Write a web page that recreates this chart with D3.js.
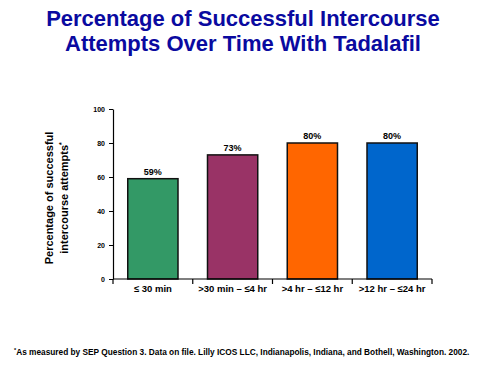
<!DOCTYPE html>
<html>
<head>
<meta charset="utf-8">
<script src="https://cdn.jsdelivr.net/npm/d3@7"></script>
<style>
  body { margin: 0; background: #fff; }
  text { font-family: "Liberation Sans", Arial, sans-serif; font-weight: bold; }
</style>
</head>
<body>
<div id="chart"></div>
<script>
var categories = ["\u2264 30 min", ">30 min \u2013 \u22644 hr", ">4 hr \u2013 \u226412 hr", ">12 hr \u2013 \u226424 hr"];
var values = [59, 73, 80, 80];
var valueLabels = ["59%", "73%", "80%", "80%"];
var barColors = ["#339966", "#993366", "#FF6600", "#0066CC"];
var yTicks = [0, 20, 40, 60, 80, 100];
var titleLines = ["Percentage of Successful Intercourse", "Attempts Over Time With Tadalafil"];

var W = 500, H = 375;
var margin = {top: 109, left: 113, right: 68, bottom: 96};
var width = W - margin.left - margin.right,
    height = H - margin.top - margin.bottom;

var svg = d3.select("#chart").append("svg")
    .attr("width", W).attr("height", H);

// title
svg.selectAll(".title").data(titleLines).enter().append("text")
    .attr("class", "title")
    .attr("x", 243).attr("y", function(d, i) { return 25.5 + i * 25; })
    .attr("text-anchor", "middle")
    .attr("font-size", "22px")
    .attr("fill", "#0A0AA0")
    .text(function(d) { return d; });

var g = svg.append("g")
    .attr("transform", "translate(" + margin.left + "," + margin.top + ")");

var x = d3.scaleBand().domain(categories).range([0, width]).paddingInner(0.37).paddingOuter(0.185);
var xb = d3.scaleBand().domain(categories).range([0, width]);
var y = d3.scaleLinear().domain([0, 100]).range([height, 0]);

// bars
g.selectAll(".bar").data(values).enter().append("rect")
    .attr("x", function(d, i) { return x(categories[i]); })
    .attr("y", function(d) { return y(d); })
    .attr("width", x.bandwidth())
    .attr("height", function(d) { return height - y(d); })
    .attr("fill", function(d, i) { return barColors[i]; })
    .attr("stroke", "#111")
    .attr("stroke-width", 1.5);

g.selectAll(".vlab").data(values).enter().append("text")
    .attr("x", function(d, i) { return x(categories[i]) + x.bandwidth() / 2; })
    .attr("y", function(d) { return y(d) - 4; })
    .attr("text-anchor", "middle")
    .attr("font-size", "9px")
    .text(function(d, i) { return valueLabels[i]; });

// y axis
var yAxis = g.append("g")
    .call(d3.axisLeft(y).tickValues(yTicks).tickSize(4).tickSizeOuter(0));
yAxis.select(".domain").attr("stroke", "#000").attr("stroke-width", 1.2);
yAxis.selectAll("line").attr("stroke", "#000");
yAxis.selectAll("text").attr("font-size", "7px").attr("font-family", "Liberation Sans, Arial, sans-serif").attr("font-weight", "bold").attr("x", -8).attr("fill", "#000");

// x axis (ticks at category boundaries)
var xAxis = g.append("g").attr("transform", "translate(0," + height + ")");
xAxis.append("line").attr("x1", 0).attr("x2", width).attr("y1", 0).attr("y2", 0)
    .attr("stroke", "#000").attr("stroke-width", 1.2);
var bounds = categories.map(function(c) { return xb(c); }).concat([width]);
xAxis.selectAll(".xt").data(bounds).enter().append("line")
    .attr("x1", function(d) { return d; }).attr("x2", function(d) { return d; })
    .attr("y1", 0).attr("y2", 5)
    .attr("stroke", "#000").attr("stroke-width", 1.2);
xAxis.selectAll(".xl").data(categories).enter().append("text")
    .attr("x", function(d) { return xb(d) + xb.bandwidth() / 2; })
    .attr("y", 13)
    .attr("text-anchor", "middle")
    .attr("font-size", "9.5px")
    .text(function(d) { return d; });

// y axis title
var yt = svg.append("text")
    .attr("transform", "translate(53,198) rotate(-90)")
    .attr("text-anchor", "middle")
    .attr("font-size", "11px");
yt.append("tspan").attr("x", 0).attr("dy", 0).text("Percentage of successful");
yt.append("tspan").attr("x", 0).attr("dy", 14.5).text("intercourse attempts");
yt.append("tspan").attr("dy", -4).attr("font-size", "7px").text("*");

// footnote
var fn = svg.append("text").attr("x", 14).attr("y", 355).attr("font-size", "8.3px");
fn.append("tspan").attr("dy", -3).attr("font-size", "5.5px").text("*");
fn.append("tspan").attr("dy", 3).text("As measured by SEP Question 3. Data on file. Lilly ICOS LLC, Indianapolis, Indiana, and Bothell, Washington. 2002.");
</script>
</body>
</html>
